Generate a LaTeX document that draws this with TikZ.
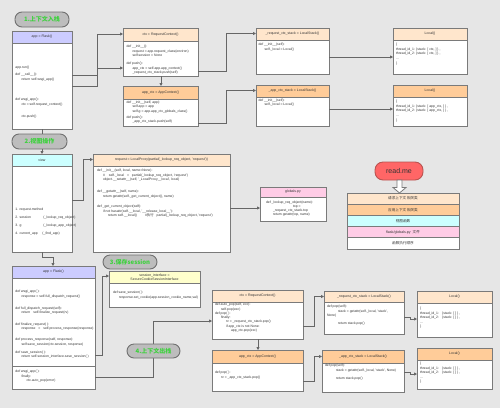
\documentclass[tikz,border=0pt]{standalone}
\usepackage{fontspec}
\setmainfont{Liberation Sans}
\newfontfamily\cjk{Noto Sans CJK SC}
\usetikzlibrary{arrows.meta,calc}
\definecolor{bgc}{HTML}{E6E6E6}
\definecolor{bordc}{HTML}{7A7A7A}
\definecolor{connc}{HTML}{666666}
\definecolor{lav}{HTML}{CCCCFF}
\definecolor{peach}{HTML}{FFE6CC}
\definecolor{orng}{HTML}{FFCC99}
\definecolor{cyanc}{HTML}{CCFFFF}
\definecolor{pinkc}{HTML}{FFCCE6}
\definecolor{yelc}{HTML}{FFFFCC}
\definecolor{pillf}{HTML}{BDBDBD}
\definecolor{pillb}{HTML}{707070}
\definecolor{pillg}{RGB}{60,210,60}
\definecolor{redc}{HTML}{FF6666}
\definecolor{redb}{HTML}{B85450}
\newcommand{\mkbox}[8]{%
  \node[boxbody, minimum width=#4pt, minimum height=#5pt] (#1) at (#2,#3) {};
  \node[boxhead, fill=#7, minimum width=#4pt, minimum height=#6pt] (#1h) at (#2,#3) {#8};
}
\newcommand{\ia}{\hspace*{6pt}}
\newcommand{\ib}{\hspace*{11pt}}
\newcommand{\ic}{\hspace*{16pt}}
\tikzset{
  every node/.style={inner sep=0pt, outer sep=0pt},
  boxbody/.style={draw=bordc, line width=0.9pt, fill=white, anchor=north west},
  boxhead/.style={draw=bordc, line width=0.9pt, anchor=north west, align=center,
     font=\fontsize{3.5}{4.3}\selectfont, text=black!80},
  code/.style={anchor=north west, align=left, font=\fontsize{3.4}{4.3}\selectfont, text=black!80},
  pill/.style={draw=pillb, fill=pillf, rounded corners=7pt, line width=0.9pt, text=pillg,
     font=\cjk\bfseries\fontsize{6}{7}\selectfont, anchor=north west},
  conn/.style={draw=connc, line width=0.8pt, -{Triangle[length=3pt,width=3pt]}},
  plainc/.style={draw=connc, line width=0.8pt},
  legrow/.style={draw=bordc, line width=0.8pt, anchor=north west, minimum width=112pt,
     minimum height=11.2pt, font=\cjk\fontsize{3.6}{4.3}\selectfont, text=black!80},
}
\begin{document}
\begin{tikzpicture}[x=1pt,y=-1pt]
\useasboundingbox[fill=bgc] (0,0) rectangle (500,408);

% ---------- pills ----------
\node[pill, minimum width=54pt, minimum height=15pt] (p1) at (15,12) {1.上下文入栈};
\node[pill, minimum width=55pt, minimum height=15pt] (p2) at (12,134) {2.视图操作};
\node[pill, minimum width=54pt, minimum height=14pt] (p3) at (103,255) {3.保存session};

% ---------- top section ----------
\mkbox{appA}{12}{31}{60}{98}{12}{lav}{app = Flask()}
\node[code] (appAt) at (15.5,66.2) {app.run()\\[3pt]
 def \_\_call\_\_():\\
 \ia return self.wsgi\_app()\\[16.4pt]
 def wsgi\_app():\\
 \ia ctx = self.request\_context()\\[8.1pt]
 \ia ctx.push()};

\mkbox{rcA}{123}{28}{75}{48}{13}{peach}{ctx = RequestContext()}
\node[code] (rcAt) at (126.5,45.5) {def \_\_init\_\_():\\
 \ia request = app.request\_class(environ)\\
 \ia self.session = None\\[4pt]
 def push():\\
 \ia app\_ctx = self.app.app\_context()\\
 \ia \_request\_ctx\_stack.push(self)};

\mkbox{acA}{123}{86}{75}{40}{13}{orng}{app\_ctx = AppContext()}
\node[code] (acAt) at (126.5,101) {def \_\_init\_\_(self, app):\\
 \ia self.app = app\\
 \ia self.g = app.app\_ctx\_globals\_class()\\[2pt]
 def push():\\
 \ia \_app\_ctx\_stack.push(self)};

\mkbox{rsA}{256}{28}{73}{46}{12}{peach}{\_request\_ctx\_stack = LocalStack()}
\node[code] (rsAt) at (258.5,43.5) {def \_\_init\_\_(self):\\
 \ia self.\_local = Local()};

\mkbox{asA}{256}{85}{73}{41}{12}{orng}{\_app\_ctx\_stack = LocalStack()}
\node[code] (asAt) at (258.5,99.2) {def \_\_init\_\_(self):\\
 \ia self.\_local = Local()};

\mkbox{lcA}{393}{28}{74}{46}{12}{peach}{Local()}
\node[code] (lcAt) at (396,43.5) {\{\\
 thread\_id\_1: \{stack: [ ctx, ] \} ,\\
 thread\_id\_2: \{stack: [ ctx, ] \} ,\\[1pt]
 ...\\
 \}};

\mkbox{lcB}{393}{85}{74}{41}{12}{orng}{Local()}
\node[code] (lcBt) at (396,100.5) {\{\\
 thread\_id\_1: \{stack: [ app\_ctx, ] \} ,\\
 thread\_id\_2: \{stack: [ app\_ctx, ] \} ,\\[1pt]
 ...\\
 \}};

% top connectors
\draw[conn] (appA.east |- 0,75) -- (97,75) |- (rcA.west |- 0,34);
\draw[conn] (appA.east |- 0,86) -- (97,86) |- (rcA.west |- 0,68);
\draw[conn] (rcA.south -| 161,0) -- (acAh.north -| 161,0);
\draw[conn] (rcA.east |- 0,71) -- (226,71) |- (rsA.west |- 0,33.5);
\draw[conn] (acA.east |- 0,123) -- (226,123) |- (asA.west |- 0,90.5);
\draw[conn] (rsA.east |- 0,57) -- (lcA.west |- 0,57);
\draw[conn] (asA.east |- 0,109) -- (lcB.west |- 0,109);

% ---------- middle section ----------
\draw[plainc] (appA.south -| 42,0) -- (p2.north -| 42,0);
\draw[conn] (p2.south -| 42,0) -- (42,154);

\mkbox{view}{12}{154}{60}{98}{12}{cyanc}{view}
\node[code] (viewt) at (15.5,208.5) {1. request.method\\[3.5pt]
 \makebox[28pt][l]{2. session}(\_lookup\_req\_object)\\[3.5pt]
 \makebox[28pt][l]{3. g}(\_lookup\_app\_object)\\[3.5pt]
 \makebox[27pt][l]{4. current\_app}(\_find\_app)};

\mkbox{lp}{93}{154}{137}{98}{12}{peach}{request = LocalProxy(partial(\_lookup\_req\_object, 'request'))}
\node[code] (lpt) at (97,169.5) {def \_\_init\_\_(self, local, name=None):\\
 \ia \#\hspace{4pt}self.\_local\hspace{3pt}=\hspace{3pt}partial(\_lookup\_req\_object, 'request')\\
 \ia object.\_\_setattr\_\_(self, '\_LocalProxy\_\_local', local)\\[8pt]
 def \_\_getattr\_\_(self, name):\\
 \ia return getattr(self.\_get\_current\_object(), name)\\[6.5pt]
 def \_get\_current\_object(self):\\
 \ia if not hasattr(self.\_\_local, '\_\_release\_local\_\_'):\\
 \ib return self.\_\_local()\hspace{8pt}\#{\cjk 执行}\hspace{2pt} partial(\_lookup\_req\_object, 'request')};

\draw[conn] (view.east |- 0,200) -- (83,200) |- (lp.west |- 0,159.5);

\mkbox{gp}{260}{187}{66}{34}{10}{pinkc}{globals.py}
\node[code] (gpt) at (266,201.5) {def \_lookup\_req\_object(name):\\[-1pt]
 \hspace*{27pt}top =\\
 \ib\hspace{-4pt}\_request\_ctx\_stack.top\\
 \ib\hspace{-4pt}return getattr(top, name)};

\draw[conn] (lp.east |- 0,208) -- (gp.west |- 0,208);

% read.me + legend
\node[draw=redb, fill=redc, line width=0.9pt, rounded corners=8pt, minimum width=48pt,
  minimum height=18pt, anchor=north west, font=\fontsize{7}{8}\selectfont, text=black!80] (rm) at (375,162) {read.me};
\node[legrow, fill=peach] (lg1) at (347,193) {请求上下文\ 相关类};
\node[legrow, fill=orng] (lg2) at (lg1.south west) {应用上下文\ 相关类};
\node[legrow, fill=cyanc] (lg3) at (lg2.south west) {视图函数};
\node[legrow, fill=pinkc] (lg4) at (lg3.south west) {\fontspec{Liberation Sans}flask/globals.py\ \ {\cjk 文件}};
\node[legrow, fill=white] (lg5) at (lg4.south west) {函数执行顺序};
\draw[draw=bordc, fill=white, line width=0.8pt] (397,180) -- (397,187.5) -- (393,187.5)
   -- (399.5,193) -- (406,187.5) -- (402,187.5) -- (402,180) -- cycle;

% ---------- bottom section ----------
\mkbox{appB}{12}{266}{83}{123}{12}{lav}{app = Flask()}
\draw[draw=bordc, line width=0.9pt] (appB.west |- 0,366) -- (appB.east |- 0,366);
\node[code] (appBt) at (15.5,290.5) {def wsgi\_app( ):\\
 \ia response = self.full\_dispatch\_request()\\[7.7pt]
 def full\_dispatch\_request(self):\\
 \ia return\hspace{2pt} self.finalize\_request(rv)\\[7.7pt]
 def finalize\_request( ):\\
 \ia response\hspace{2pt} =\hspace{2pt} self.process\_response(response)\\[6.7pt]
 def process\_response(self, response):\\
 \ia self.save\_session(ctx.session, response)\\[3.7pt]
 def save\_session( ):\\
 \ia return self.session\_interface.save\_session( )};
\node[code] (appBt2) at (15.5,370.5) {def wsgi\_app( ):\\
 \ia finally:\\
 \ib ctx.auto\_pop(error)};

\draw[conn] (view.south -| 42,0) -- (42,257) -- (53,257) -- (appBh.north -| 53,0);

\mkbox{ss}{109}{271}{91}{36}{12}{yelc}{session\_interface =\\SecureCookieSessionInterface}
\node[code] (sst) at (113,291.5) {def save\_session( ):\\
 \ia response.set\_cookie(app.session\_cookie\_name,val)};
\draw[conn] (appB.east |- 0,355) -- (102,355) |- (ss.west |- 0,276);

\mkbox{rcB}{212}{290}{91}{49}{12}{peach}{ctx = RequestContext()}
\node[code] (rcBt) at (215,303.5) {def auto\_pop(self, exc):\\
 \ia self.pop(exc)\\[-0.3pt]
 def pop( ):\\
 \ia finally:\\
 \ib rv = \_request\_ctx\_stack.pop()\\
 \ib if app\_ctx is not None:\\
 \ic app\_ctx.pop(exc)};

% line 4 (drawn before pill so pill sits on top)
\draw[conn] (appB.east |- 0,377) -- (153,377) |- (rcB.west |- 0,321);
\node[pill, minimum width=53pt, minimum height=14pt] (p4) at (127,344) {4.上下文出栈};

\mkbox{acB}{212}{350}{91}{41}{13}{orng}{app\_ctx = AppContext()}
\node[code] (acBt) at (215,371.5) {def pop( ):\\
 \ia rv = \_app\_ctx\_stack.pop()};
\draw[conn] (rcB.south -| 258,0) -- (acBh.north -| 258,0);

\mkbox{rsB}{324}{291}{80}{43}{11}{peach}{\_request\_ctx\_stack = LocalStack()}
\node[code] (rsBt) at (327,305.5) {def pop(self):\\
 \ib stack = getattr(self.\_local, 'stack',\\
 None)\\[3.5pt]
 \ib return stack.pop()};

\mkbox{asB}{322}{350}{82}{42}{13}{orng}{\_app\_ctx\_stack = LocalStack()}
\node[code] (asBt) at (325,364.5) {def pop(self):\\
 \ib stack = getattr(self.\_local, 'stack', None)\\[4pt]
 \ib return stack.pop()};

\draw[conn] (rcB.east |- 0,326) -- (314,326) |- (rsB.west |- 0,296.5);
\draw[conn] (acB.east |- 0,381) -- (314,381) |- (asB.west |- 0,356.5);

\mkbox{lcC}{417}{291}{75}{46}{12}{peach}{Local()}
\node[code] (lcCt) at (420,307.5) {\{\\
 thread\_id\_1:\hspace{2pt} \{stack: [ ] \} ,\\
 thread\_id\_2:\hspace{2pt} \{stack: [ ] \} ,\\[0.5pt]
 ...\\
 \}};
\mkbox{lcD}{417}{348}{75}{41}{12}{orng}{Local()}
\node[code] (lcDt) at (420,362.5) {\{\\
 thread\_id\_1:\hspace{2pt} \{stack: [ ] \} ,\\
 thread\_id\_2:\hspace{2pt} \{stack: [ ] \} ,\\[0.5pt]
 ...\\
 \}};
\draw[conn] (rsB.east |- 0,317) -- (410,317) -- (410,319) -- (lcC.west |- 0,319);
\draw[conn] (asB.east |- 0,372) -- (410,372) -- (410,374) -- (lcD.west |- 0,374);
\end{tikzpicture}
\end{document}
